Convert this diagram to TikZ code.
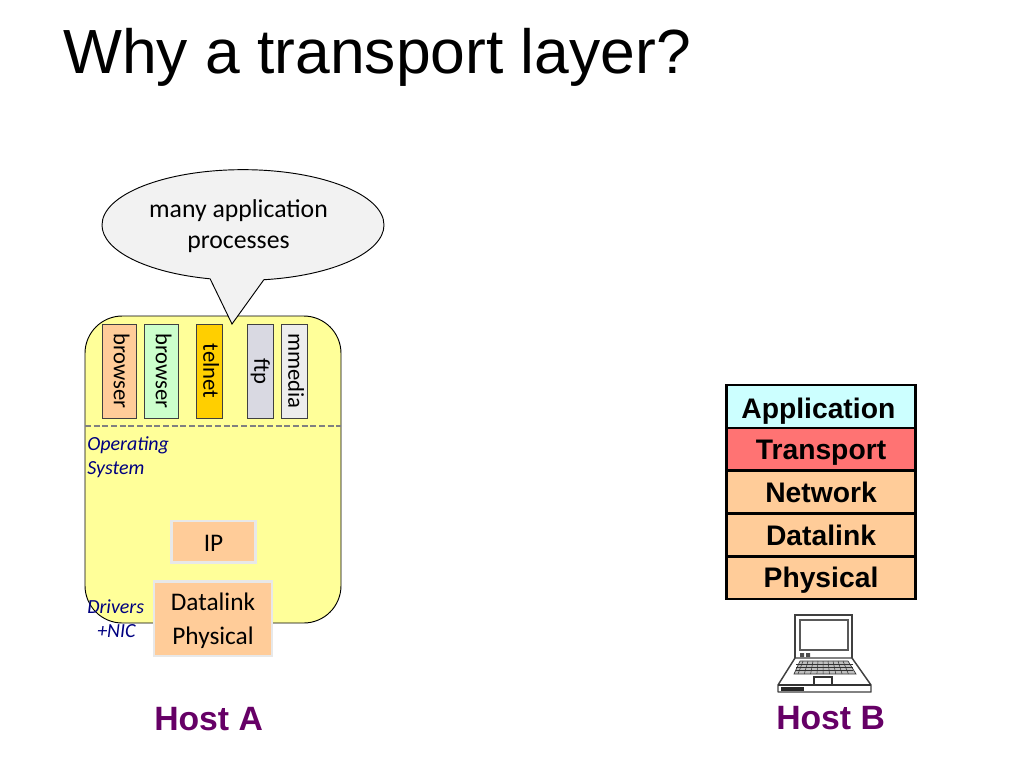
\documentclass[tikz,border=0pt]{standalone}
\usepackage{fontspec}
\setmainfont{Carlito}
\newfontfamily\headfont{Liberation Sans}
\usetikzlibrary{positioning}
\usetikzlibrary{shapes.callouts}
\definecolor{osyellow}{HTML}{FFFF99}
\definecolor{peach}{HTML}{FFCC99}
\definecolor{appcyan}{HTML}{CCFFFF}
\definecolor{hostpurple}{HTML}{660066}
\tikzset{
  appbox/.style = {draw=black!75, line width=0.7pt, rotate=-90, minimum height=#1, minimum width=70.5pt, inner sep=0pt, text height=11.5pt, text depth=3pt, font=\fontsize{17}{20}\selectfont},
  softbox/.style = {draw=black!9, line width=2pt, fill=peach, inner sep=0pt, align=center},
  oslabel/.style = {text=blue!50!black, font=\fontsize{15}{18}\selectfont\itshape, inner sep=0pt},
  layer/.style = {draw=black, line width=2pt, outer sep=0pt, minimum width=142pt, minimum height=32.1pt, inner sep=0pt, text height=15.3pt, text depth=0pt, font=\headfont\bfseries\fontsize{21.2}{24}\selectfont},
  hostlabel/.style = {text=hostpurple, inner sep=0pt, font=\headfont\bfseries\fontsize{25.3}{28}\selectfont}
}
\begin{document}
\begin{tikzpicture}[x=0.75pt,y=-0.75pt]
    \useasboundingbox (0,0) rectangle (1024,768);

    \node[anchor=base west, inner sep=0pt, font=\headfont\fontsize{46.8}{56}\selectfont] (title) at (63,73) {Why a transport layer?};

    % host A
    \draw[fill=osyellow, draw=black, line width=0.7pt, rounded corners=28pt] (85,316) rectangle (341,623);
    \coordinate (osleft) at (85,426);
    \coordinate (osright) at (341,426);
    \draw[draw=black!50, line width=1.1pt, dash pattern=on 4.5pt off 2pt] (osleft) -- (osright);

    \node[ellipse callout, draw=black, line width=0.7pt, fill=black!5, minimum width=211.5pt, minimum height=83pt, callout absolute pointer={(232,324)}, callout pointer arc=22] (bubble) at (243,225) {};
    \node[align=center, inner sep=0pt, font=\fontsize{19.3}{23.2}\selectfont] (bubbletext) at (238.5,226) {many application\\processes};

    \node[appbox=25.5pt, fill=peach] (browsera) at (119.5,371) {browser};
    \node[appbox=26pt, fill=green!20!white] (browserb) at (161.5,371) {browser};
    \node[appbox=19.5pt, fill=orange!20!yellow!90!red] (telnet) at (209,371) {telnet};
    \node[appbox=19.5pt, fill=blue!25!black!15] (ftp) at (260,371) {ftp};
    \node[appbox=19.5pt, fill=black!7] (mmedia) at (294,371) {mmedia};

    \node[oslabel, anchor=base west] (os) at (87,450) {Operating};
    \node[oslabel, anchor=base west] (sys) at (87,474) {System};
    \node[oslabel, anchor=base west] (drivers) at (87,613) {Drivers};
    \node[oslabel, anchor=base west] (nic) at (97,637) {+NIC};

    \node[softbox, minimum width=63pt, minimum height=31pt, text height=15.5pt, text depth=0pt, font=\fontsize{19}{23}\selectfont] (ip) at (213.5,541.5) {IP};
    \node[softbox, minimum width=88.5pt, minimum height=56pt, font=\fontsize{19}{25.5}\selectfont] (dlphy) at (213,618.5) {\rule{0pt}{17pt}Datalink\\Physical};

    \node[hostlabel, anchor=base west] (hosta) at (154,730) {Host A};

    % host B
    \node[layer, fill=appcyan, text height=18.3pt] (application) at (821,406.5) {\hspace*{-4pt}Application};
    \node[layer, fill=red!55!white, below=0pt of application] (transport) {Transport};
    \node[layer, fill=peach, below=0pt of transport] (network) {Network};
    \node[layer, fill=peach, below=0pt of network] (datalink) {Datalink};
    \node[layer, fill=peach, below=0pt of datalink] (physical) {Physical};

    % laptop
    \draw[line width=1.1pt, draw=black!75, fill=white] (795,615) rectangle (852,660);
    \draw[line width=0.9pt, draw=black!65] (800,620) rectangle (848,650);
    \fill[black!70] (800,653) rectangle (804,657) (806,653) rectangle (810,657);
    \draw[line width=1.1pt, draw=black!75, fill=white, line join=round] (795,658) -- (852,658) -- (871,685) -- (871,692) -- (778,692) -- (778,685) -- cycle;
    \draw[line width=0.5pt, draw=black!80, fill=black!25] (800,661) -- (848,661) -- (856,674) -- (794,674) -- cycle;
    \foreach \row in {664,667,670}
      \draw[line width=0.4pt, draw=black!80] (796,\row) -- (853,\row);
    \foreach \col in {0,1,...,8}
      \draw[line width=0.4pt, draw=black!80] (803+\col*5,661) -- (798+\col*6.3,674);
    \draw[line width=0.8pt, draw=black!80, fill=white] (814,677) rectangle (832,685);
    \draw[line width=0.9pt, draw=black!80] (778,685) -- (871,685);
    \fill[black!85] (781,687) rectangle (804,691);

    \node[hostlabel, anchor=base west] (hostb) at (776,729) {Host B};

  \end{tikzpicture}
\end{document}
